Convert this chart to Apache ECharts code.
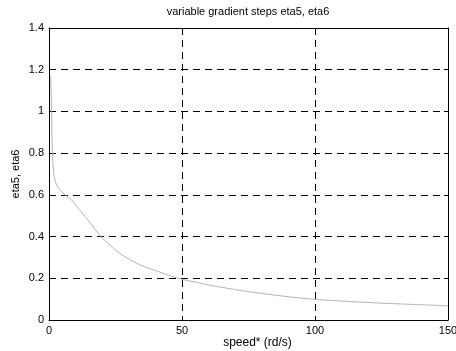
<!DOCTYPE html>
<html>
<head>
<meta charset="utf-8">
<script src="https://cdn.jsdelivr.net/npm/echarts@6/dist/echarts.min.js"></script>
<style>
  html, body { margin: 0; padding: 0; background: #fff; }
  #chart { width: 456px; height: 351px; }
</style>
</head>
<body>
<div id="chart"></div>
<script>
// Gradient step eta5/eta6 against speed
const speed = [0.6, 1.0, 1.25, 1.9, 2.9, 4, 6, 8.5, 11, 14, 17, 19.5, 22, 25, 29, 35, 41, 46, 50, 55, 62, 68, 75, 87, 99, 110, 123, 136, 150];
const eta = [1.17, 1.0, 0.81, 0.69, 0.647, 0.625, 0.6, 0.575, 0.535, 0.49, 0.44, 0.40, 0.37, 0.335, 0.3, 0.26, 0.233, 0.21, 0.195, 0.182, 0.163, 0.15, 0.136, 0.116, 0.1, 0.091, 0.082, 0.075, 0.068];
const xTicks = [0, 50, 100, 150];
const yTicks = [0, 0.2, 0.4, 0.6, 0.8, 1, 1.2, 1.4];

const font = 'Liberation Sans, Arial, sans-serif';
const points = speed.map((s, i) => [s, eta[i]]);

const dashed = { show: true, lineStyle: { color: '#000', width: 1, type: [7, 5] } };
const tick = { show: true, inside: true, length: 4, lineStyle: { color: '#000' } };
const line = { show: true, onZero: false, lineStyle: { color: '#000', width: 1 } };

const chart = echarts.init(document.getElementById('chart'), null, { renderer: 'canvas' });
chart.setOption({
  animation: false,
  backgroundColor: '#fff',
  title: {
    text: 'variable gradient steps eta5, eta6',
    left: 243, top: 1, textAlign: 'center',
    textStyle: { fontFamily: font, fontSize: 11, fontWeight: 'normal', color: '#000' }
  },
  grid: { left: 49, right: 8, top: 28, bottom: 31, containLabel: false, outerBoundsMode: 'none' },
  xAxis: [{
    type: 'value', min: xTicks[0], max: xTicks[xTicks.length - 1], interval: 50,
    name: 'speed* (rd/s)', nameLocation: 'middle', nameGap: 17, nameMoveOverlap: false,
    nameTextStyle: { fontFamily: font, fontSize: 12, color: '#000', padding: [0, 0, 0, 18] },
    axisLine: line, axisTick: tick,
    axisLabel: { fontFamily: font, fontSize: 11, color: '#000', margin: 5 },
    splitLine: dashed
  }, {
    type: 'value', position: 'top', min: xTicks[0], max: xTicks[xTicks.length - 1], interval: 50,
    axisLine: line, axisTick: tick, axisLabel: { show: false }, splitLine: { show: false }
  }],
  yAxis: [{
    type: 'value', min: yTicks[0], max: yTicks[yTicks.length - 1], interval: 0.2,
    name: 'eta5, eta6', nameLocation: 'middle', nameGap: 28, nameRotate: 90, nameMoveOverlap: false,
    nameTextStyle: { fontFamily: font, fontSize: 11, color: '#000' },
    axisLine: line, axisTick: tick,
    axisLabel: { fontFamily: font, fontSize: 11, color: '#000', margin: 5,
      formatter: v => String(Math.round(v * 10) / 10) },
    splitLine: dashed
  }, {
    type: 'value', position: 'right', min: yTicks[0], max: yTicks[yTicks.length - 1], interval: 0.2,
    axisLine: line, axisTick: tick, axisLabel: { show: false }, splitLine: { show: false }
  }],
  series: [{
    type: 'line', data: points, xAxisIndex: 0, yAxisIndex: 0,
    showSymbol: false, smooth: 0.3,
    lineStyle: { color: '#b4b4b4', width: 1 }
  }]
});
</script>
</body>
</html>
